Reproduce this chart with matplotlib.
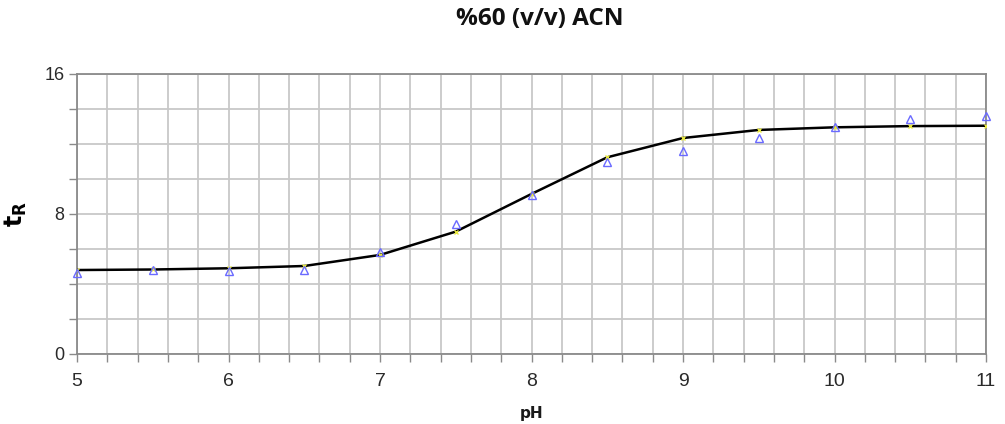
import matplotlib
matplotlib.use("Agg")
import matplotlib.pyplot as plt
from matplotlib.ticker import MultipleLocator

# Data
ph = [5.0, 5.5, 6.0, 6.5, 7.0, 7.5, 8.0, 8.5, 9.0, 9.5, 10.0, 10.5, 11.0]
tr_exp = [4.64, 4.80, 4.75, 4.79, 5.80, 7.42, 9.07, 10.93, 11.60, 12.32, 12.97, 13.40, 13.58]
tr_fit = [4.79, 4.82, 4.89, 5.02, 5.65, 6.98, 9.13, 11.22, 12.32, 12.78, 12.93, 13.00, 13.02]

title = "%60 (v/v) ACN"
xlabel = "pH"
ylabel = r"$\mathbf{t}_{\mathbf{R}}$"

fig = plt.figure(figsize=(10.05, 4.24), dpi=100)
ax = fig.add_axes([77/1005, 1 - 354/424, (986-77)/1005, (354-73.5)/424])

ax.set_xlim(5, 11)
ax.set_ylim(0, 16)
ax.xaxis.set_major_locator(MultipleLocator(1))
ax.xaxis.set_minor_locator(MultipleLocator(0.2))
ax.yaxis.set_major_locator(MultipleLocator(8))
ax.yaxis.set_minor_locator(MultipleLocator(2))

ax.grid(True, which="both", color="#c8c8c8", linewidth=1.3)
ax.set_axisbelow(True)
for s in ax.spines.values():
    s.set_color("#8a8a8a")
    s.set_linewidth(1.3)

ax.tick_params(which="both", colors="#8a8a8a", length=6, width=1.0,
               labelcolor="#2a2a2a")
ax.tick_params(axis="x", which="both", labelsize=14, pad=8)
ax.tick_params(axis="y", which="both", labelsize=13, pad=3)

ax.plot(ph, tr_fit, color="black", linewidth=1.8, zorder=3)
ax.plot(ph, tr_fit, linestyle="none", marker="x", markersize=3,
        color="#e8e840", markeredgewidth=1.0, zorder=4)
ax.plot(ph, tr_exp, linestyle="none", marker="^", markersize=6,
        markerfacecolor="none", markeredgecolor="#6a6aff",
        markeredgewidth=1.0, zorder=5, clip_on=False)

for lab in ax.get_xticklabels() + ax.get_yticklabels():
    lab.set_family(["Liberation Sans", "DejaVu Sans"])

ax.set_xlabel(xlabel, fontsize=11, fontweight="bold",
              family=["DejaVu Sans"], color="#1a1a1a", labelpad=11)
ax.set_ylabel(ylabel, fontsize=17, labelpad=11)

fig.text(540/1005, 1 - 19/424, title, ha="center", va="center",
         fontsize=17.5, fontweight="bold", family=["Open Sans", "DejaVu Sans"],
         color="#111111")

fig.savefig("out.png", dpi=100)
